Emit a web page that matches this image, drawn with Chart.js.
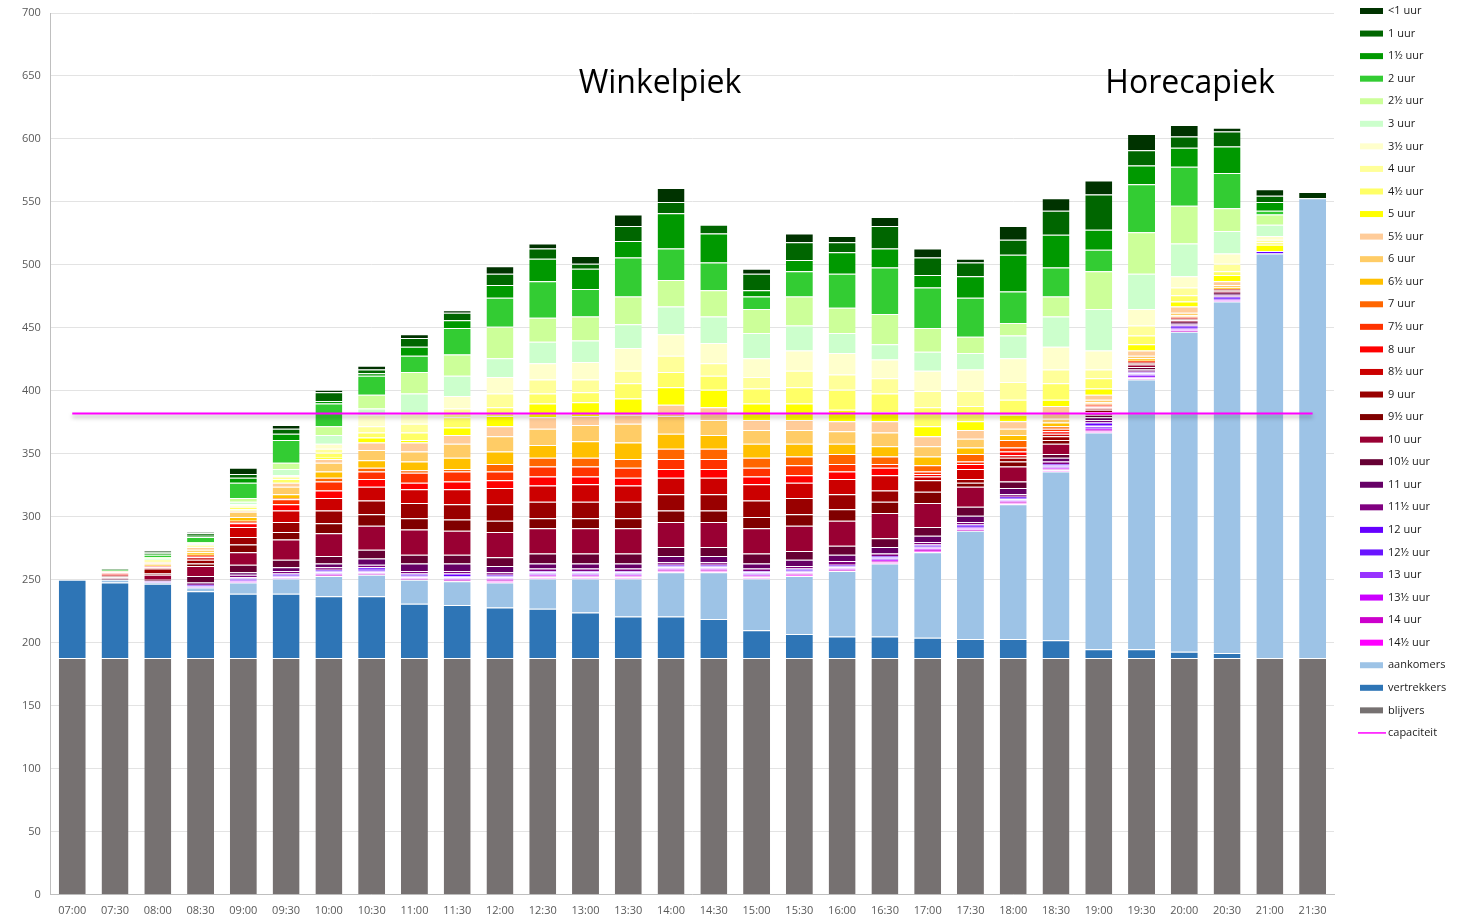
<!DOCTYPE html>
<html lang="nl">
<head>
<meta charset="utf-8">
<title>Parkeerduur per half uur</title>
<script src="https://cdn.jsdelivr.net/npm/chart.js@4.4.1/dist/chart.umd.min.js"></script>
<style>
  html, body { margin: 0; padding: 0; background: #ffffff; }
  #wrap { width: 1468px; height: 916px; }
</style>
</head>
<body>
<div id="wrap"><canvas id="grafiek" width="1468" height="916"></canvas></div>
<script>
// tijdvakken op de x-as
var tijden = ["07:00","07:30","08:00","08:30","09:00","09:30","10:00","10:30","11:00","11:30",
              "12:00","12:30","13:00","13:30","14:00","14:30","15:00","15:30","16:00","16:30",
              "17:00","17:30","18:00","18:30","19:00","19:30","20:00","20:30","21:00","21:30"];

// onderste lagen
var blijvers    = [188,188,188,188,188,188,188,188,188,188,188,188,188,188,188,188,188,188,188,188,188,188,188,188,188,188,188,188,188,188];
var vertrekkers = [62,60,59,53,51,51,49,49,43,42,40,39,36,33,33,31,22,19,17,17,16,15,15,14,7,7,5,4,0,0];
var aankomers   = [0,2,1,3,9,12,16,17,19,19,20,24,27,30,35,37,41,46,52,58,68,86,107,134,172,214,254,279,321,365];

// parkeerduur
var uurMin1 = [0,0,1,1,5,3,2,3,3,2,6,4,6,9,11,0,4,7,5,7,7,3,11,10,11,13,9,3,5,5];
var uur1    = [0,1,1,2,3,4,7,3,7,6,9,8,4,12,9,7,13,14,8,18,14,11,12,19,28,12,9,12,5,0];
var uur1h   = [0,0,1,1,4,5,2,2,7,6,10,18,16,13,28,23,5,9,17,15,10,17,29,26,16,15,15,21,7,0];
var uur2    = [0,1,2,4,12,18,18,15,13,21,23,29,22,31,25,22,10,20,27,37,32,31,25,23,17,38,31,28,3,0];
var uur2h   = [0,0,1,1,3,5,7,11,17,17,25,19,19,22,21,21,19,23,20,24,19,13,10,16,30,33,30,18,8,0];
var uur3    = [0,0,1,1,2,5,7,5,15,16,15,17,17,19,22,21,20,20,16,12,15,13,18,24,33,28,26,18,9,0];
var uur3h   = [0,0,0,0,1,1,4,9,9,10,13,13,14,18,17,16,15,16,17,15,16,17,19,18,15,13,9,8,3,0];
var uur4    = [0,0,1,1,1,2,3,5,7,7,11,11,10,10,13,10,9,13,12,12,13,12,14,11,7,8,6,6,2,0];
var uur4h   = [0,0,1,1,2,3,4,4,6,8,7,8,8,12,12,11,12,13,16,15,15,12,12,13,8,7,5,3,2,0];
var uur5    = [0,0,0,0,1,0,1,4,2,6,8,11,11,13,14,14,13,13,9,7,8,7,5,5,5,5,4,5,5,0];
var uur5h   = [0,1,1,2,1,3,3,6,7,7,8,9,7,7,9,10,8,8,8,9,8,7,6,10,4,4,5,3,0,0];
var uur6    = [0,0,1,2,4,6,7,8,8,11,12,13,13,15,14,12,11,11,10,11,8,7,5,3,2,2,2,2,0,0];
var uur6h   = [0,0,1,2,3,3,5,6,7,9,10,10,13,13,12,11,11,10,8,8,7,5,4,3,1,2,1,1,0,0];
var uur7    = [0,0,0,1,1,1,3,3,2,2,6,7,7,7,8,8,8,7,8,6,5,6,6,2,1,0,0,0,0,0];
var uur7h   = [0,1,0,0,1,4,7,6,8,8,7,8,8,8,8,8,7,8,6,3,2,2,3,2,1,1,1,0,0,0];
var uur8    = [0,1,1,1,3,5,6,6,5,6,6,7,6,6,7,7,6,6,6,6,2,4,3,2,1,0,0,0,0,0];
var uur8h   = [0,1,1,2,8,9,10,11,11,12,13,13,14,13,13,13,13,12,12,12,3,8,2,2,1,1,1,1,0,0];
var uur9    = [0,0,4,3,6,8,10,11,12,12,13,13,13,13,13,13,13,13,12,9,9,3,3,3,1,0,0,0,0,0];
var uur9h   = [0,1,1,2,6,6,8,9,9,9,9,8,8,8,9,9,9,9,9,9,9,3,4,3,2,1,1,1,0,0];
var uur10   = [0,1,4,8,10,16,18,19,20,19,20,20,20,20,20,20,20,20,20,20,19,16,12,8,2,2,1,1,0,0];
var uur10h  = [0,1,1,5,6,6,6,7,7,7,7,8,8,8,7,7,8,7,7,7,7,7,5,3,2,2,1,1,0,0];
var uur11   = [0,0,0,1,2,3,3,5,6,6,5,4,4,4,5,5,4,5,5,5,5,5,5,3,2,1,1,1,0,0];
var uur11h  = [0,0,0,1,2,2,2,2,2,2,2,2,2,2,2,2,2,2,3,2,2,2,2,2,2,1,1,1,0,0];
var uur12   = [0,0,0,0,1,1,1,2,1,2,1,1,1,1,1,1,1,1,1,1,1,1,1,1,2,1,1,1,2,0];
var uur12h  = [0,0,0,1,1,1,1,1,1,1,1,1,1,1,1,1,1,1,1,1,1,1,1,1,1,1,1,1,0,0];
var uur13   = [0,0,1,1,1,1,1,1,1,1,1,1,1,1,1,1,1,1,1,1,1,1,1,1,2,2,1,1,0,0];
var uur13h  = [0,0,0,0,1,1,1,1,1,1,1,1,1,1,1,1,1,1,1,1,1,1,1,1,1,1,1,1,0,0];
var uur14   = [0,0,0,0,0,0,1,1,1,1,1,1,1,1,1,1,1,1,1,1,1,1,1,1,1,1,1,0,0,0];
var uur14h  = [0,0,0,0,0,0,0,0,0,0,1,1,1,1,1,1,1,1,0,1,1,0,1,1,1,0,0,0,0,0];

var capaciteit = [382,382,382,382,382,382,382,382,382,382,382,382,382,382,382,382,382,382,382,382,382,382,382,382,382,382,382,382,382,382];

var duurLabels = ["<1 uur","1 uur","1½ uur","2 uur","2½ uur","3 uur","3½ uur","4 uur","4½ uur","5 uur",
                  "5½ uur","6 uur","6½ uur","7 uur","7½ uur","8 uur","8½ uur","9 uur","9½ uur","10 uur",
                  "10½ uur","11 uur","11½ uur","12 uur","12½ uur","13 uur","13½ uur","14 uur","14½ uur"];
var duurReeksen = [uurMin1,uur1,uur1h,uur2,uur2h,uur3,uur3h,uur4,uur4h,uur5,
                   uur5h,uur6,uur6h,uur7,uur7h,uur8,uur8h,uur9,uur9h,uur10,
                   uur10h,uur11,uur11h,uur12,uur12h,uur13,uur13h,uur14,uur14h];
var duurKleuren = ["#003300","#006600","#009900","#33CC33","#CCFF99","#CCFFCC","#FFFFCC","#FFFF99","#FFFF66","#FFFF00",
                   "#FFCC99","#FFCC66","#FFC000","#FF6600","#FF3300","#FF0000","#CC0000","#990000","#800000","#990033",
                   "#660033","#660066","#800080","#6600FF","#6A14FF","#9933FF","#CC00FF","#CC00CC","#FF00FF"];

document.addEventListener("DOMContentLoaded", function(){
    tekenGrafiek();
});

function maakBalk(label, data, kleur){
    return {
        type: 'bar',
        label: label,
        data: data,
        backgroundColor: kleur,
        borderColor: '#ffffff',
        borderWidth: { top: 1, right: 0, bottom: 0, left: 0 },
        borderSkipped: false,
        barPercentage: 0.9,
        categoryPercentage: 0.7,
        stack: 'bezetting',
        order: 1
    };
}

function tekenGrafiek(){
    var datasets = [];
    var i;

    datasets.push({
        type: 'line',
        label: 'capaciteit',
        data: capaciteit,
        borderColor: '#FF00FF',
        borderWidth: 2,
        pointRadius: 0,
        fill: false,
        stack: 'cap',
        order: 0
    });
    datasets.push(maakBalk('blijvers', blijvers, '#767171'));
    datasets.push(maakBalk('vertrekkers', vertrekkers, '#2E75B6'));
    datasets.push(maakBalk('aankomers', aankomers, '#9DC3E6'));

    // langste duur onderaan, <1 uur bovenop
    for(i = duurReeksen.length - 1; i >= 0; i--){
        datasets.push(maakBalk(duurLabels[i], duurReeksen[i], duurKleuren[i]));
    }

    // schaduw onder de capaciteitslijn
    var schaduwPlugin = {
        id: 'schaduw',
        beforeDatasetDraw: function(chart, args){
            if(args.meta.type === 'line'){
                var ctx = chart.ctx;
                ctx.save();
                ctx.shadowColor = 'rgba(0,0,0,0.35)';
                ctx.shadowBlur = 4;
                ctx.shadowOffsetY = 3;
            }
        },
        afterDatasetDraw: function(chart, args){
            if(args.meta.type === 'line'){
                chart.ctx.restore();
            }
        }
    };

    // legenda rechts en de twee teksten in de grafiek
    var extraPlugin = {
        id: 'extra',
        afterDraw: function(chart){
            var ctx = chart.ctx;
            var sets = chart.data.datasets.slice().reverse();
            ctx.save();
            ctx.font = '11px "Open Sans"';
            ctx.textBaseline = 'middle';
            ctx.textAlign = 'left';
            sets.forEach(function(ds, n){
                var y = 11 + n * 22.56;
                if(ds.type === 'line'){
                    ctx.strokeStyle = ds.borderColor;
                    ctx.lineWidth = 1.5;
                    ctx.beginPath();
                    ctx.moveTo(1358, y);
                    ctx.lineTo(1386, y);
                    ctx.stroke();
                } else {
                    ctx.fillStyle = ds.backgroundColor;
                    ctx.fillRect(1360, y - 3, 23, 6);
                }
                ctx.fillStyle = '#1a1a1a';
                ctx.fillText(ds.label, 1388, y);
            });

            ctx.font = '32px "Open Sans"';
            ctx.fillStyle = '#000000';
            ctx.textAlign = 'center';
            ctx.textBaseline = 'alphabetic';
            ctx.fillText('Winkelpiek', 660, 93);
            ctx.fillText('Horecapiek', 1190, 93);
            ctx.restore();
        }
    };

    var ctx = document.getElementById('grafiek').getContext('2d');
    new Chart(ctx, {
        data: {
            labels: tijden,
            datasets: datasets
        },
        options: {
            responsive: false,
            animation: false,
            devicePixelRatio: 1,
            events: [],
            layout: { padding: { left: 12, right: 134, top: 13, bottom: -10 } },
            plugins: {
                legend: { display: false },
                tooltip: { enabled: false }
            },
            scales: {
                x: {
                    stacked: true,
                    grid: { display: false, drawTicks: false },
                    border: { color: '#bfbfbf' },
                    ticks: { color: '#595959', font: { family: 'Open Sans', size: 11 }, padding: 9, maxRotation: 0, autoSkip: false }
                },
                y: {
                    stacked: true,
                    min: 0,
                    max: 700,
                    grid: { color: '#e3e3e3', drawTicks: false },
                    border: { color: '#bfbfbf' },
                    ticks: { stepSize: 50, color: '#595959', font: { family: 'Open Sans', size: 11 }, padding: 10 },
                    afterFit: function(scale){
                        // bovenste label mag boven de grafiek uitsteken
                        scale.paddingTop = 0;
                    }
                }
            }
        },
        plugins: [schaduwPlugin, extraPlugin]
    });
}
</script>
</body>
</html>
